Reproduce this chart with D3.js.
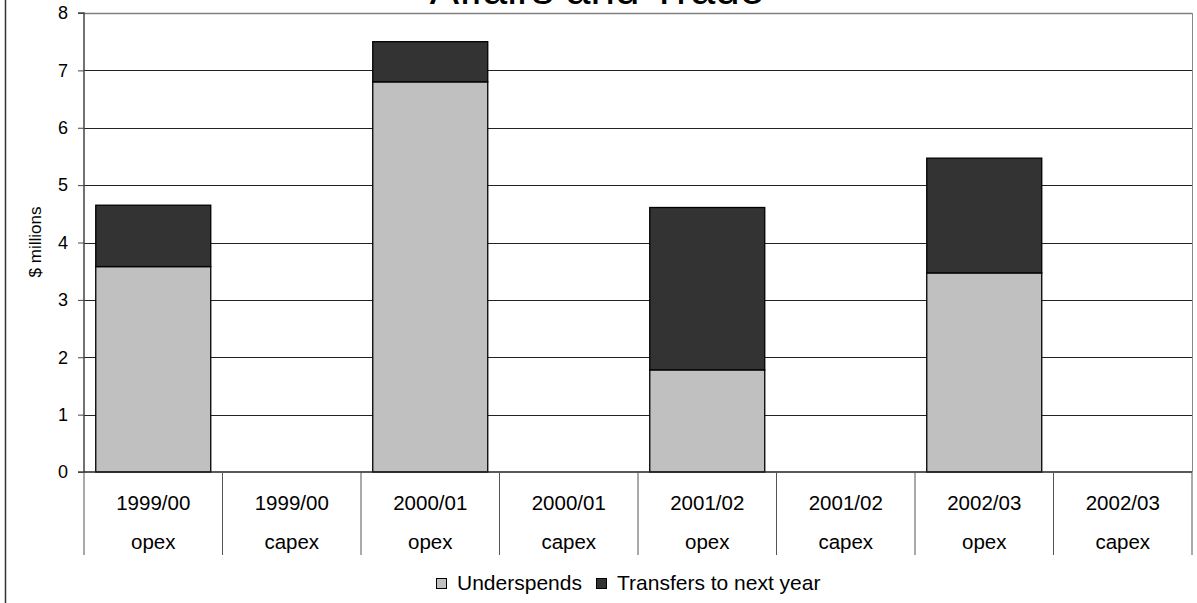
<!DOCTYPE html>
<html>
<head>
<meta charset="utf-8">
<script src="https://cdn.jsdelivr.net/npm/d3@7"></script>
<style>
  body { margin: 0; background: #fff; }
  svg { display: block; font-family: "Liberation Sans", Arial, sans-serif; }
</style>
</head>
<body>
<svg id="chart" width="1197" height="603"></svg>
<script>
const years = ["1999/00", "1999/00", "2000/01", "2000/01", "2001/02", "2001/02", "2002/03", "2002/03"];
const kinds = ["opex", "capex", "opex", "capex", "opex", "capex", "opex", "capex"];
const underspends = [3.58, 0, 6.8, 0, 1.78, 0, 3.47, 0];
const transfers = [1.07, 0, 0.7, 0, 2.83, 0, 2.0, 0];
const yTicks = [0, 1, 2, 3, 4, 5, 6, 7, 8];
const seriesNames = ["Underspends", "Transfers to next year"];
const seriesColors = ["#c0c0c0", "#333333"];

const svg = d3.select("#chart");
const margin = { left: 84, right: 5, top: 13, bottom: 131 };
const W = 1197, H = 603;

const cats = years.map((d, i) => i);
const x = d3.scaleBand().domain(cats).range([margin.left, W - margin.right]);
const y = d3.scaleLinear().domain([0, 8]).range([H - margin.bottom, margin.top]);

// outer frame (left edge visible)
svg.append("line").attr("x1", 5.5).attr("x2", 5.5).attr("y1", 0).attr("y2", H)
  .attr("stroke", "#333").attr("stroke-width", 1.5);

// title (clipped by top of page)
svg.append("text").attr("x", 597).attr("y", 4).attr("text-anchor", "middle")
  .attr("font-size", 44).text("Affairs and Trade");

// gridlines
svg.append("g").selectAll("line").data(yTicks.filter(d => d > 0)).join("line")
  .attr("x1", margin.left).attr("x2", W - margin.right)
  .attr("y1", d => Math.round(y(d)) + 0.5).attr("y2", d => Math.round(y(d)) + 0.5)
  .attr("stroke", d => d === 8 ? "#808080" : "#222").attr("stroke-width", d => d === 8 ? 1.5 : 1);

// right edge of plot area
svg.append("line").attr("x1", W - margin.right + 0.5).attr("x2", W - margin.right + 0.5)
  .attr("y1", y(8)).attr("y2", y(0)).attr("stroke", "#888");

// stacked bars
const stack = d3.stack().keys([0, 1]).value((i, k) => k === 0 ? underspends[i] : transfers[i]);
const layers = stack(cats);
const barW = 115;
svg.append("g").selectAll("g").data(layers).join("g")
  .attr("fill", (d, k) => seriesColors[k])
  .selectAll("rect").data(d => d.filter(s => s[1] - s[0] > 0)).join("rect")
  .attr("x", s => x(s.data) + (x.bandwidth() - barW) / 2)
  .attr("width", barW)
  .attr("y", s => y(s[1]))
  .attr("height", s => y(s[0]) - y(s[1]))
  .attr("stroke", "#000").attr("stroke-width", 1.3);

// y axis
const yAxis = d3.axisLeft(y).tickValues(yTicks).tickSize(6).tickPadding(10).tickFormat(d3.format("d"));
const gy = svg.append("g").attr("transform", `translate(${margin.left},0)`).call(yAxis);
gy.select(".domain").attr("stroke", "#444").attr("stroke-width", 1.5).attr("d", `M-6,${y(8)}H0V${y(0)}H-6`);
gy.selectAll(".tick line").attr("stroke", "#444");
gy.selectAll("text").attr("font-size", 18).attr("fill", "#000").attr("font-family", "Liberation Sans, Arial, sans-serif");

// x axis baseline
svg.append("line").attr("x1", margin.left).attr("x2", W - margin.right)
  .attr("y1", y(0)).attr("y2", y(0)).attr("stroke", "#222").attr("stroke-width", 1.5);

// category separators
const sepBottom = 555;
const seps = cats.concat([cats.length]);
svg.append("g").selectAll("line").data(seps).join("line")
  .attr("x1", i => i < cats.length ? x(i) : W - margin.right)
  .attr("x2", i => i < cats.length ? x(i) : W - margin.right)
  .attr("y1", y(0)).attr("y2", sepBottom)
  .attr("stroke", "#555").attr("stroke-width", 1);

// category labels
const lab = svg.append("g").attr("font-size", 20.5).attr("text-anchor", "middle");
lab.selectAll("text.yr").data(cats).join("text").attr("class", "yr")
  .attr("x", i => x(i) + x.bandwidth() / 2).attr("y", 510).text(i => years[i]);
lab.selectAll("text.kd").data(cats).join("text").attr("class", "kd")
  .attr("x", i => x(i) + x.bandwidth() / 2).attr("y", 549).text(i => kinds[i]);

// y axis title
svg.append("text").attr("transform", "translate(41,242) rotate(-90)")
  .attr("text-anchor", "middle").attr("font-size", 17).text("$ millions");

// legend
const legend = svg.append("g").attr("font-size", 21);
const lx = [436, 596];
seriesNames.forEach((n, k) => {
  legend.append("rect").attr("x", lx[k] + 0.5).attr("y", 578.5).attr("width", 10).attr("height", 10)
    .attr("fill", seriesColors[k]).attr("stroke", "#000");
  legend.append("text").attr("x", lx[k] + 21).attr("y", 590).text(n);
});
</script>
</body>
</html>
